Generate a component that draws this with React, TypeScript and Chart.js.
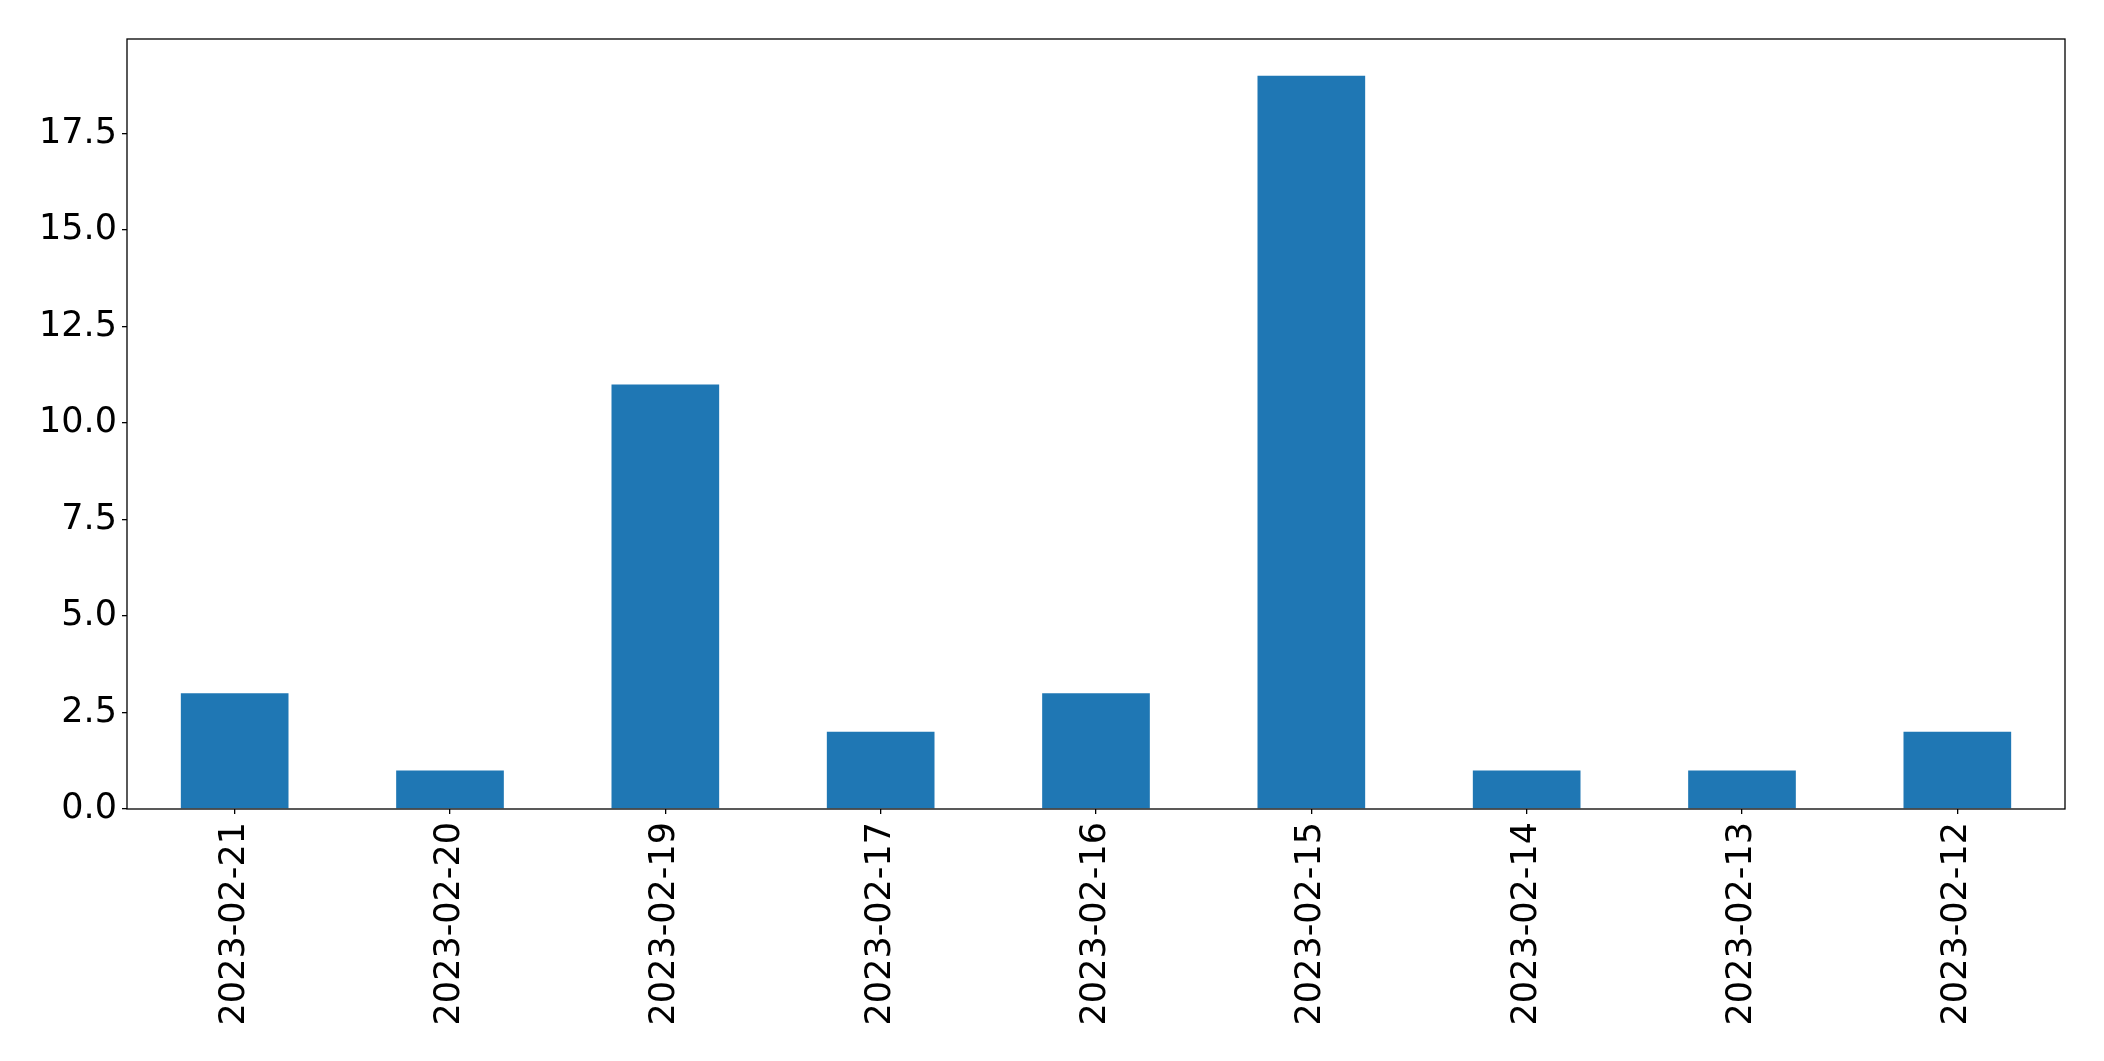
import React, { useEffect, useRef } from "react";
import { Chart, registerables } from "chart.js";

Chart.register(...registerables);

const categories = [
  "2023-02-21",
  "2023-02-20",
  "2023-02-19",
  "2023-02-17",
  "2023-02-16",
  "2023-02-15",
  "2023-02-14",
  "2023-02-13",
  "2023-02-12",
];
const counts = [3, 1, 11, 2, 3, 19, 1, 1, 2];
const yTicks = [0, 2.5, 5, 7.5, 10, 12.5, 15, 17.5];
const yMax = 19.95;

const FONT = "'DejaVu Sans', sans-serif";

const frame = {
  id: "frame",
  afterDatasetsDraw(chart: any) {
    const { ctx, chartArea } = chart;
    ctx.save();
    ctx.strokeStyle = "#000";
    ctx.lineWidth = 1.3;
    ctx.strokeRect(chartArea.left, chartArea.top, chartArea.right - chartArea.left, chartArea.bottom - chartArea.top);
    ctx.restore();
  },
};

export default function App() {
  const ref = useRef<HTMLCanvasElement | null>(null);
  useEffect(() => {
    if (!ref.current) return;
    const chart = new Chart(ref.current, {
      type: "bar",
      data: {
        labels: categories,
        datasets: [
          {
            data: counts,
            backgroundColor: "#1f77b4",
            borderWidth: 0,
            categoryPercentage: 1,
            barPercentage: 0.5,
          },
        ],
      },
      plugins: [frame],
      options: {
        animation: false,
        responsive: true,
        maintainAspectRatio: false,
        layout: { padding: { top: 39, right: 39, left: 0, bottom: 0 } },
        plugins: { legend: { display: false }, tooltip: { enabled: false } },
        scales: {
          x: {
            offset: true,
            grid: { display: true, offset: false, drawOnChartArea: false, drawTicks: true, tickLength: 5, color: "#000", lineWidth: 1.3 },
            border: { display: false },
            ticks: {
              autoSkip: false,
              maxRotation: 90,
              minRotation: 90,
              padding: 8,
              color: "#000",
              font: { family: FONT, size: 35 },
            },
            afterFit(scale: any) {
              scale.height = 252;
            },
          },
          y: {
            min: 0,
            max: yMax,
            grid: { display: true, drawOnChartArea: false, drawTicks: true, tickLength: 5, color: "#000", lineWidth: 1.3 },
            border: { display: false },
            afterBuildTicks(scale: any) {
              scale.ticks = yTicks.map((v) => ({ value: v }));
            },
            ticks: {
              includeBounds: false,
              padding: 5,
              color: "#000",
              font: { family: FONT, size: 35 },
              callback: (v: any) => Number(v).toFixed(1),
            },
            afterFit(scale: any) {
              scale.width = 127;
            },
          },
        },
      },
    });
    return () => chart.destroy();
  }, []);
  return (
    <div style={{ position: "fixed", left: 0, top: 0, width: 2104, height: 1061, background: "#fff" }}>
      <canvas ref={ref} />
    </div>
  );
}
